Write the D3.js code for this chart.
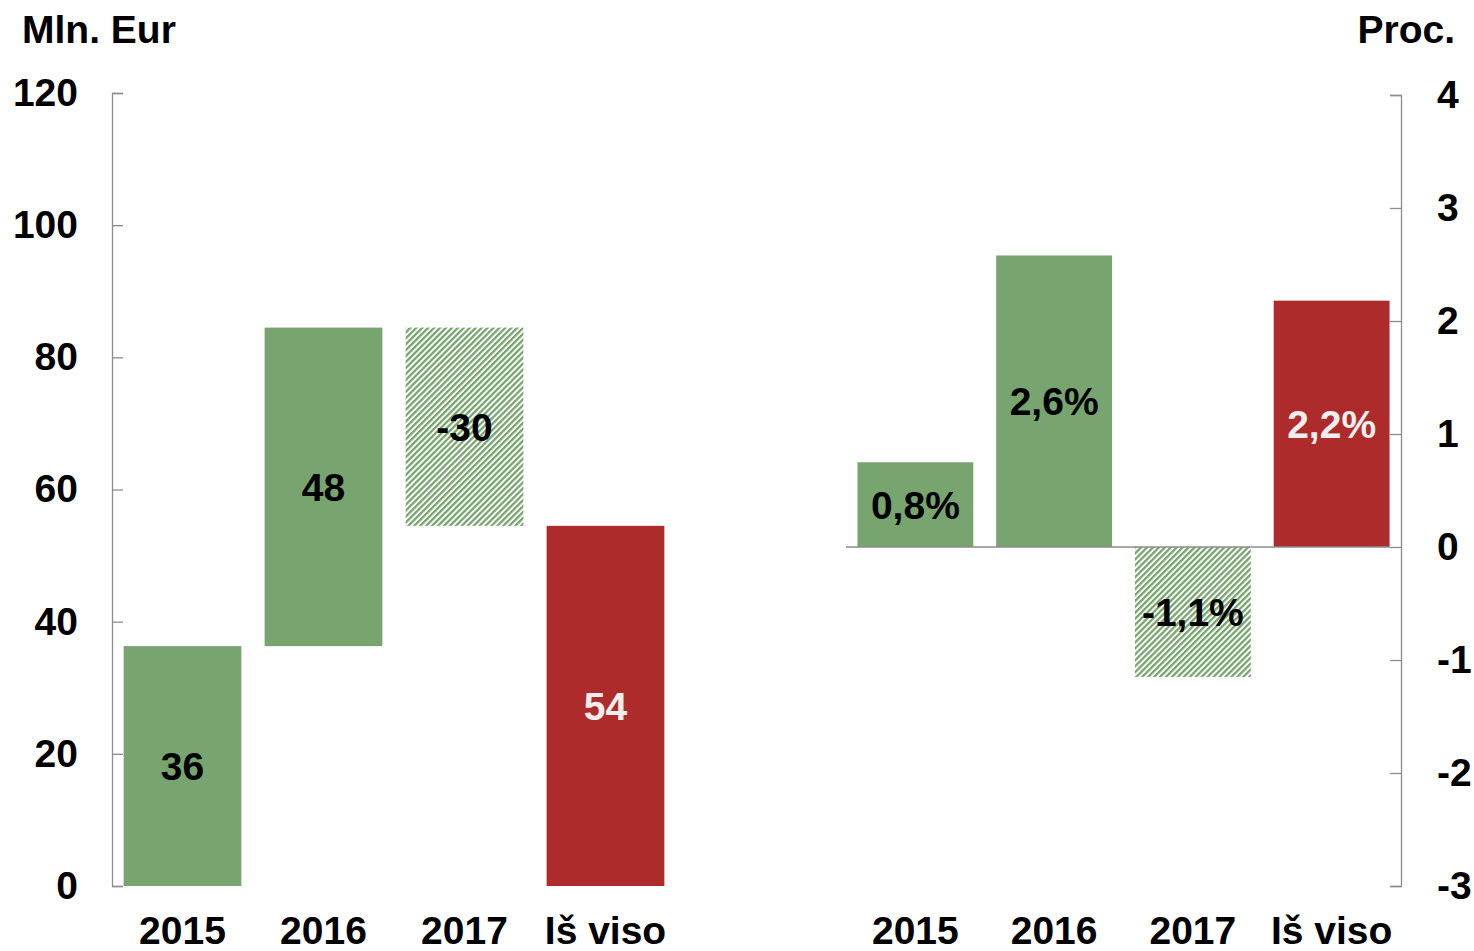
<!DOCTYPE html>
<html>
<head>
<meta charset="utf-8">
<script src="https://cdn.jsdelivr.net/npm/d3@7"></script>
<style>
  body { margin: 0; background: #fff; }
  text { font-family: "Liberation Sans", Arial, sans-serif; font-weight: bold; }
</style>
</head>
<body>
<script>
var categories = ["2015", "2016", "2017", "Iš viso"];
var eurValues = [36.3, 48.2, -30.0, 54.5];
var eurLabels = ["36", "48", "-30", "54"];
var pctValues = [0.75, 2.58, -1.15, 2.18];
var pctLabels = ["0,8%", "2,6%", "-1,1%", "2,2%"];
var eurTicks = [0, 20, 40, 60, 80, 100, 120];
var pctTicks = [-3, -2, -1, 0, 1, 2, 3, 4];

var green = "#78a46f", red = "#ae2b2c", grey = "#8c8c8c";
var width = 1474, height = 951;

var svg = d3.select("body").append("svg")
    .attr("width", width)
    .attr("height", height);

// hatch pattern for the negative bar
svg.append("defs").append("pattern")
    .attr("id", "hatch")
    .attr("patternUnits", "userSpaceOnUse")
    .attr("width", 4.2).attr("height", 4.2)
    .attr("patternTransform", "rotate(45)")
  .call(function(p) {
    p.append("rect").attr("width", 4.2).attr("height", 4.2).attr("fill", "#fff");
    p.append("rect").attr("width", 2.3).attr("height", 4.2).attr("fill", green);
  });

// waterfall steps: running total, last one is the total from zero
var steps = [];
var run = 0;
eurValues.forEach(function(v, i) {
  if (i === eurValues.length - 1) steps.push({start: 0, end: v});
  else { steps.push({start: run, end: run + v}); run += v; }
});

function styleAxis(g) {
  g.selectAll("path, line").attr("stroke", grey).attr("stroke-width", 1.3);
  g.selectAll("text").attr("font-size", 39).attr("fill", "#000")
    .attr("font-family", "Liberation Sans, Arial, sans-serif").attr("font-weight", "bold");
}

// ---- left chart ----
var x1 = d3.scaleBand().domain(categories).range([112, 676])
    .paddingInner(0.165).paddingOuter(0.0825);
var y1 = d3.scaleLinear().domain([0, 120]).range([886, 93]);

svg.append("g")
    .attr("transform", "translate(112,0)")
    .call(d3.axisLeft(y1).tickValues(eurTicks).tickFormat(function(d) { return String(d); })
      .tickSizeInner(-11).tickSizeOuter(-11).tickPadding(34))
    .call(styleAxis);

svg.selectAll(".lbar").data(categories).enter().append("rect")
    .attr("class", "lbar")
    .attr("x", function(d) { return x1(d); })
    .attr("width", x1.bandwidth())
    .attr("y", function(d, i) { return y1(Math.max(steps[i].start, steps[i].end)); })
    .attr("height", function(d, i) { return Math.abs(y1(steps[i].start) - y1(steps[i].end)); })
    .attr("fill", function(d, i) {
      if (i === categories.length - 1) return red;
      return eurValues[i] < 0 ? "url(#hatch)" : green;
    });

svg.selectAll(".llab").data(categories).enter().append("text")
    .attr("class", "llab")
    .attr("x", function(d) { return x1(d) + x1.bandwidth() / 2; })
    .attr("y", function(d, i) { return (y1(steps[i].start) + y1(steps[i].end)) / 2; })
    .attr("dy", "0.36em")
    .attr("text-anchor", "middle")
    .attr("font-size", 39)
    .attr("fill", function(d, i) { return i === categories.length - 1 ? "#eeeeee" : "#000"; })
    .text(function(d, i) { return eurLabels[i]; });

svg.selectAll(".lcat").data(categories).enter().append("text")
    .attr("class", "lcat")
    .attr("x", function(d) { return x1(d) + x1.bandwidth() / 2; })
    .attr("y", 944)
    .attr("text-anchor", "middle")
    .attr("font-size", 39)
    .text(function(d) { return d; });

svg.append("text").attr("x", 22).attr("y", 43).attr("font-size", 39).text("Mln. Eur");

// ---- right chart ----
var x2 = d3.scaleBand().domain(categories).range([846, 1401])
    .paddingInner(0.165).paddingOuter(0.0825);
var y2 = d3.scaleLinear().domain([-3, 4]).range([886, 95]);

svg.append("g")
    .attr("transform", "translate(1401,0)")
    .call(d3.axisRight(y2).tickValues(pctTicks).tickFormat(function(d) { return String(d); })
      .tickSizeInner(-11).tickSizeOuter(-11).tickPadding(36))
    .call(styleAxis);

svg.selectAll(".rbar").data(categories).enter().append("rect")
    .attr("class", "rbar")
    .attr("x", function(d) { return x2(d); })
    .attr("width", x2.bandwidth())
    .attr("y", function(d, i) { return y2(Math.max(0, pctValues[i])); })
    .attr("height", function(d, i) { return Math.abs(y2(0) - y2(pctValues[i])); })
    .attr("fill", function(d, i) {
      if (i === categories.length - 1) return red;
      return pctValues[i] < 0 ? "url(#hatch)" : green;
    });

svg.append("line")
    .attr("x1", 846).attr("x2", 1390)
    .attr("y1", y2(0)).attr("y2", y2(0))
    .attr("stroke", grey).attr("stroke-width", 1.5);

svg.selectAll(".rlab").data(categories).enter().append("text")
    .attr("class", "rlab")
    .attr("x", function(d) { return x2(d) + x2.bandwidth() / 2; })
    .attr("y", function(d, i) { return (y2(0) + y2(pctValues[i])) / 2; })
    .attr("dy", "0.36em")
    .attr("text-anchor", "middle")
    .attr("font-size", 39)
    .attr("fill", function(d, i) { return i === categories.length - 1 ? "#eeeeee" : "#000"; })
    .text(function(d, i) { return pctLabels[i]; });

svg.selectAll(".rcat").data(categories).enter().append("text")
    .attr("class", "rcat")
    .attr("x", function(d) { return x2(d) + x2.bandwidth() / 2; })
    .attr("y", 944)
    .attr("text-anchor", "middle")
    .attr("font-size", 39)
    .text(function(d) { return d; });

svg.append("text").attr("x", 1455).attr("y", 43).attr("text-anchor", "end")
    .attr("font-size", 39).text("Proc.");
</script>
</body>
</html>
